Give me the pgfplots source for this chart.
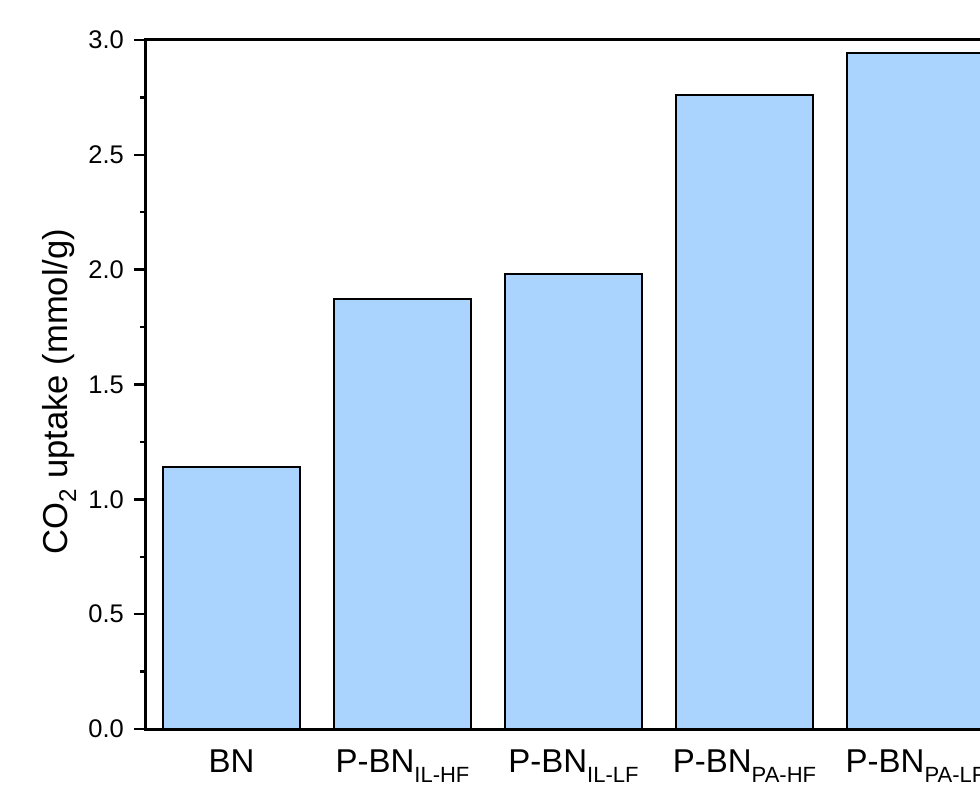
\documentclass[border=0pt]{standalone}
\usepackage{fontspec}
\setmainfont{Liberation Sans}
\usepackage{pgfplots}
\pgfplotsset{compat=1.18}
\definecolor{barblue}{RGB}{170,211,253}
\newcommand\sub[1]{\raisebox{-10pt}{\fontsize{22}{22}\selectfont #1}}
\begin{document}
\begin{tikzpicture}
\begin{axis}[
  at={(0,0)}, anchor=south west,
  scale only axis,
  width=855pt, height=689pt,
  xmin=-0.5, xmax=4.5,
  ymin=0, ymax=3.0,
  ytick={0,0.5,1.0,1.5,2.0,2.5,3.0},
  minor y tick num=1,
  yticklabel style={/pgf/number format/fixed, /pgf/number format/fixed zerofill, /pgf/number format/precision=1, font=\fontsize{25.5}{30}\selectfont, inner sep=0pt, xshift=-10pt},
  /pgf/number format/assume math mode=true,
  ytick pos=left,
  tick align=outside,
  major tick length=12pt,
  minor tick length=6pt,
  every tick/.style={black, line width=2.6pt},
  minor tick style={line width=2.3pt},
  xtick={0,1,2,3,4},
  xticklabels={BN, P-BN\sub{IL-HF}, P-BN\sub{IL-LF}, P-BN\sub{PA-HF}, P-BN\sub{PA-LF}},
  x tick style={draw=none},
  xtick pos=bottom,
  xticklabel style={font=\fontsize{33}{40}\selectfont, anchor=base, inner sep=0pt, yshift=-31pt},
  axis line style={line width=3pt},
  every axis y label/.style={at={(axis description cs:-0.0915,0.49)}, rotate=90, anchor=base},
  ylabel={\fontsize{34.6}{40}\selectfont CO\textsubscript{2} uptake (mmol/g)},
  clip=true,
]
\addplot[ybar, bar width=0.8, bar shift=0pt, fill=barblue, draw=black, line width=1.3pt]
  coordinates {(0,1.141) (1,1.872) (2,1.981) (3,2.760) (4,2.943)};
\end{axis}
\pgfresetboundingbox
\useasboundingbox (-146pt,-56pt) rectangle (834pt,729pt);
\end{tikzpicture}
\end{document}
